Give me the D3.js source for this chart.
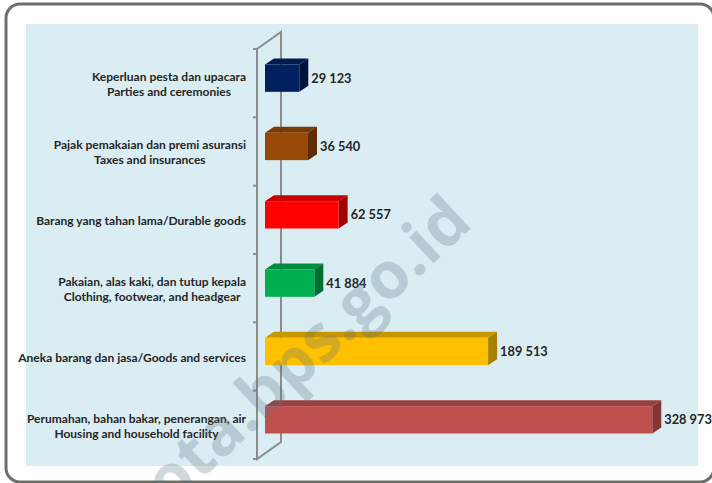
<!DOCTYPE html>
<html>
<head>
<meta charset="utf-8">
<script src="https://cdn.jsdelivr.net/npm/d3@7"></script>
<style>
  html, body { margin: 0; padding: 0; background: #fff; }
  svg { display: block; }
</style>
</head>
<body>
<svg id="chart"></svg>
<script>
// categories, top to bottom (Indonesian / English lines)
const categories = [
  ["Keperluan pesta dan upacara", "Parties and ceremonies"],
  ["Pajak pemakaian dan premi asuransi", "Taxes and insurances"],
  ["Barang yang tahan lama/Durable goods"],
  ["Pakaian, alas kaki, dan tutup kepala", "Clothing, footwear, and headgear"],
  ["Aneka barang dan jasa/Goods and services"],
  ["Perumahan, bahan bakar, penerangan, air", "Housing and household facility"]
]
const values = [29123, 36540, 62557, 41884, 189513, 328973]
// front / top / side shades of each bar
const frontColors = ["#002060", "#984807", "#FF0000", "#00B050", "#FFC000", "#C0504D"]
const topColors   = ["#001a52", "#7a3905", "#C80000", "#008C40", "#C89600", "#9A403E"]
const sideColors  = ["#00133d", "#5f2c03", "#A00000", "#006F32", "#A88000", "#853634"]

const width = 712, height = 483
const svg = d3.select("#chart").attr("width", width).attr("height", height)

// outer frame + plot area
svg.append("rect")
  .attr("x", 6).attr("y", 4).attr("width", 708).attr("height", 478)
  .attr("rx", 14)
  .attr("fill", "#fff").attr("stroke", "#6e6e68").attr("stroke-width", 3)
svg.append("rect")
  .attr("x", 26).attr("y", 24).attr("width", 672).attr("height", 442)
  .attr("fill", "#DAEDF3")

const rows = d3.range(categories.length)
const yScale = d3.scaleBand().domain(rows).range([49, 459])
const xScale = d3.scaleLinear().domain([0, 350000]).range([265, 677])

// 3d wall (front line, back line, connectors)
const wallDx = 24, wallDy = 17
const wallTop = yScale.range()[0], wallBottom = yScale.range()[1]
const wallX = 257
const wall = svg.append("g").attr("stroke", "#8c8c8c").attr("stroke-width", 2).attr("fill", "none")
wall.append("path").attr("d", `M${wallX},${wallTop} L${wallX + wallDx},${wallTop - wallDy} L${wallX + wallDx},${wallBottom - wallDy} L${wallX},${wallBottom} Z`)
wall.selectAll(".tick")
  .data(rows.concat([rows.length]))
  .join("line")
  .attr("x1", wallX - 4).attr("x2", wallX)
  .attr("y1", d => d < rows.length ? yScale(d) : wallBottom)
  .attr("y2", d => d < rows.length ? yScale(d) : wallBottom)

// bars
const barH = yScale.bandwidth() * 0.4
const dx = 9, dy = 6
const barY = i => yScale(i) + yScale.bandwidth() / 2 - 5 - barH / 2

const bars = svg.append("g").selectAll("g").data(values).join("g")
bars.append("path") // top face
  .attr("fill", (d, i) => topColors[i])
  .attr("d", (d, i) => {
    const x0 = xScale(0), x1 = xScale(d), y = barY(i)
    return `M${x0},${y} L${x0 + dx},${y - dy} L${x1 + dx},${y - dy} L${x1},${y} Z`
  })
bars.append("path") // side face
  .attr("fill", (d, i) => sideColors[i])
  .attr("d", (d, i) => {
    const x1 = xScale(d), y = barY(i)
    return `M${x1},${y} L${x1 + dx},${y - dy} L${x1 + dx},${y - dy + barH} L${x1},${y + barH} Z`
  })
bars.append("rect") // front face
  .attr("x", xScale(0))
  .attr("y", (d, i) => barY(i))
  .attr("width", d => xScale(d) - xScale(0))
  .attr("height", barH)
  .attr("fill", (d, i) => frontColors[i])

// value labels
const fmt = v => d3.format(",")(v).replace(/,/g, " ")
svg.append("g").selectAll("text").data(values).join("text")
  .attr("x", d => xScale(d) + dx + 3)
  .attr("y", (d, i) => barY(i) + barH / 2)
  .attr("dy", "0.35em")
  .attr("font-family", "Lato, sans-serif")
  .attr("font-weight", "bold")
  .attr("font-size", 12.8)
  .attr("fill", "#262626")
  .text(fmt)

// category labels: block right-aligned to the wall, lines centered in block
const labelRight = 246, lineH = 15
const labels = svg.append("g")
  .attr("font-family", "Lato, sans-serif")
  .attr("font-weight", "bold")
  .attr("font-size", 12)
  .attr("fill", "#262626")
categories.forEach((lines, i) => {
  const g = labels.append("g")
  const cy = yScale(i) + yScale.bandwidth() / 2 + 1
  const t = g.selectAll("text").data(lines).join("text")
    .attr("y", (d, j) => cy + (j - (lines.length - 1) / 2) * lineH)
    .attr("dy", "0.35em")
    .attr("text-anchor", "middle")
    .text(d => d)
  let maxW = 0
  t.each(function() { maxW = Math.max(maxW, this.getComputedTextLength()) })
  t.attr("x", labelRight - maxW / 2)
})

// watermark
svg.append("text")
  .attr("transform", "translate(292,364) rotate(-43)")
  .attr("text-anchor", "middle")
  .attr("dy", "0.35em")
  .attr("font-family", "'Open Sans', sans-serif")
  .attr("font-weight", "bold")
  .attr("font-size", 65)
  .attr("fill", "#5a7480")
  .attr("fill-opacity", 0.28)
  .text("kota.bps.go.id")
</script>
</body>
</html>
